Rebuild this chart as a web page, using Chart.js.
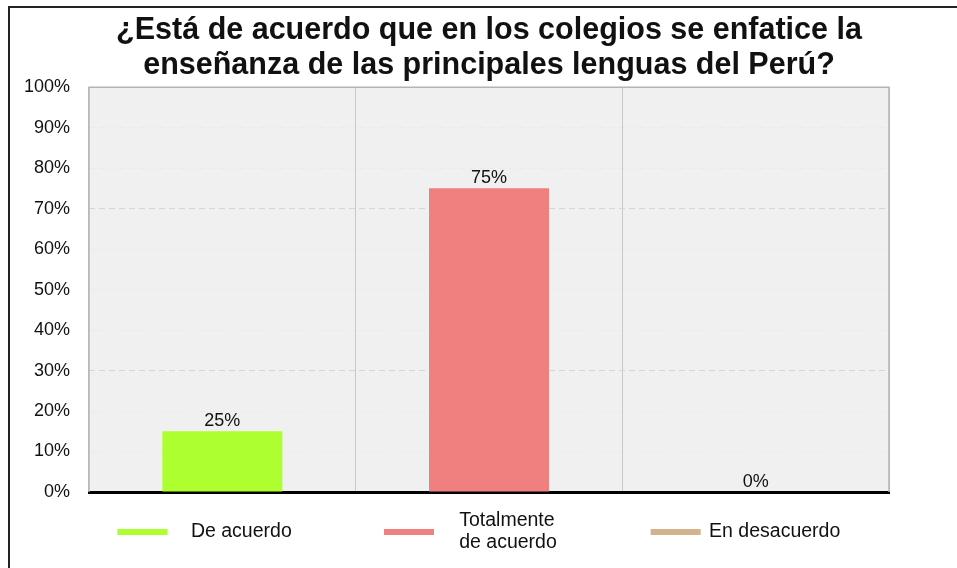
<!DOCTYPE html>
<html>
<head>
<meta charset="utf-8">
<script src="https://cdn.jsdelivr.net/npm/chart.js@4.4.0/dist/chart.umd.min.js"></script>
<style>
  html, body { margin: 0; padding: 0; background: #fff; }
</style>
</head>
<body>
<canvas id="chart" width="957" height="568"></canvas>
<script>
const categories = ["De acuerdo", "Totalmente de acuerdo", "En desacuerdo"];
const legendTexts = [["De acuerdo"], ["Totalmente", "de acuerdo"], ["En desacuerdo"]];
const barValues = [15, 75, 0];
const barLabels = ["25%", "75%", "0%"];
const barColors = ["#adff2f", "#f08080", "#d2b48c"];
const titleLines = [
  "¿Está de acuerdo que en los colegios se enfatice la",
  "enseñanza de las principales lenguas del Perú?"
];

Chart.defaults.font.family = '"Liberation Sans", Arial, sans-serif';
Chart.defaults.color = "#111";

// background, outer frame and plot panel
const panelPlugin = {
  id: "panel",
  beforeDraw(chart) {
    const ctx = chart.ctx;
    const a = chart.chartArea;
    ctx.save();
    ctx.fillStyle = "#fff";
    ctx.fillRect(0, 0, chart.width, chart.height);
    ctx.strokeStyle = "#222";
    ctx.lineWidth = 2;
    ctx.beginPath();
    ctx.moveTo(9, chart.height);
    ctx.lineTo(9, 7);
    ctx.lineTo(chart.width, 7);
    ctx.stroke();
    ctx.fillStyle = "#f0f0f0";
    ctx.fillRect(a.left, a.top, a.right - a.left, a.bottom - a.top);
    ctx.restore();
  },
  beforeDatasetsDraw(chart) {
    const ctx = chart.ctx;
    const a = chart.chartArea;
    ctx.save();
    ctx.strokeStyle = "#b4b4b4";
    ctx.lineWidth = 1.5;
    ctx.beginPath();
    ctx.moveTo(a.left, a.bottom);
    ctx.lineTo(a.left, a.top);
    ctx.lineTo(a.right, a.top);
    ctx.lineTo(a.right, a.bottom);
    ctx.stroke();
    ctx.restore();
  }
};

// value text above each bar
const barLabelPlugin = {
  id: "barLabels",
  afterDatasetsDraw(chart) {
    const ctx = chart.ctx;
    const meta = chart.getDatasetMeta(0);
    ctx.save();
    ctx.font = '18px "Liberation Sans", Arial, sans-serif';
    ctx.fillStyle = "#111";
    ctx.textAlign = "center";
    ctx.textBaseline = "middle";
    meta.data.forEach((bar, i) => {
      ctx.fillText(barLabels[i], bar.x, bar.y - 10);
    });
    ctx.restore();
  }
};

// legend drawn under each category
const legendPlugin = {
  id: "catLegend",
  afterDraw(chart) {
    const ctx = chart.ctx;
    const x = chart.scales.x;
    const y0 = chart.chartArea.bottom + 40;
    ctx.save();
    ctx.font = '19.5px "Liberation Sans", Arial, sans-serif';
    ctx.textAlign = "left";
    ctx.textBaseline = "middle";
    categories.forEach((c, i) => {
      const cx = x.getPixelForValue(i);
      ctx.strokeStyle = barColors[i];
      ctx.lineWidth = 6;
      ctx.beginPath();
      ctx.moveTo(cx - 105, y0);
      ctx.lineTo(cx - 55, y0);
      ctx.stroke();
      ctx.fillStyle = "#111";
      const lines = legendTexts[i];
      const w = Math.max(...lines.map((t) => ctx.measureText(t).width));
      const left = cx + 19 - w / 2;
      lines.forEach((t, j) => {
        ctx.fillText(t, left, y0 + (j - (lines.length - 1) / 2) * 22);
      });
    });
    ctx.restore();
  }
};

new Chart(document.getElementById("chart"), {
  type: "bar",
  data: {
    labels: categories,
    datasets: [
      {
        data: barValues,
        backgroundColor: barColors,
        categoryPercentage: 1,
        barPercentage: 0.45
      }
    ]
  },
  options: {
    responsive: false,
    animation: false,
    layout: { padding: { left: 0, right: 68, top: 0, bottom: 0 } },
    plugins: {
      legend: { display: false },
      tooltip: { enabled: false },
      title: {
        display: true,
        text: titleLines,
        fullSize: false,
        color: "#111",
        font: { size: 30.5, weight: "bold", lineHeight: 1.15 },
        padding: { top: 13, bottom: 4 }
      }
    },
    scales: {
      x: {
        offset: true,
        grid: { offset: true, color: "#c8c8c8", lineWidth: 1, drawTicks: false },
        ticks: { display: false },
        border: { display: true, color: "#000", width: 3 },
        afterFit(scale) { scale.height = 76; }
      },
      y: {
        min: 0,
        max: 100,
        ticks: {
          stepSize: 10,
          padding: 19,
          font: { size: 18 },
          color: "#111",
          callback: (v) => v + "%"
        },
        grid: {
          drawTicks: false,
          color: (ctx) => (ctx.tick && (ctx.tick.value === 30 || ctx.tick.value === 70)) ? "#d6d6d6" : "rgba(0,0,0,0.02)"
        },
        border: { display: false, dash: [6, 4] },
        afterFit(scale) { scale.width = 89; }
      }
    }
  },
  plugins: [panelPlugin, barLabelPlugin, legendPlugin]
});
</script>
</body>
</html>
